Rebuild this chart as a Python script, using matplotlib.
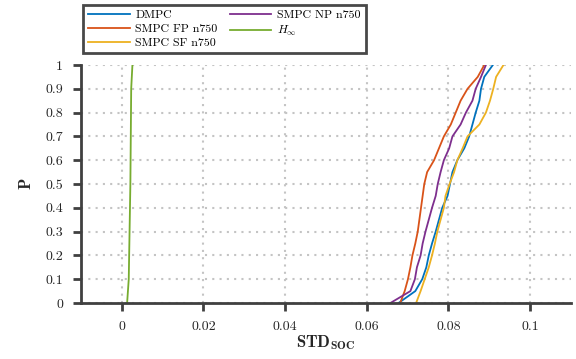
import numpy as np
import matplotlib
matplotlib.use("Agg")
import matplotlib.pyplot as plt

plt.rcParams['font.family'] = 'serif'
plt.rcParams['font.serif'] = ['cmr10', 'DejaVu Serif']
plt.rcParams['mathtext.fontset'] = 'cm'
plt.rcParams['axes.formatter.use_mathtext'] = True

# probability levels of the empirical CDFs
p = np.linspace(0, 1, 21)

# STD_SOC values read at each probability level
dmpc = [0.0678, 0.0719, 0.0736, 0.0746, 0.0752, 0.0760, 0.0769, 0.0777, 0.0785, 0.0798,
        0.0804, 0.0810, 0.0822, 0.0839, 0.0851, 0.0859, 0.0867, 0.0876, 0.0880, 0.0888, 0.0909]
smpc_np = [0.0658, 0.0707, 0.0718, 0.0723, 0.0732, 0.0737, 0.0744, 0.0752, 0.0760, 0.0769,
           0.0774, 0.0781, 0.0789, 0.0802, 0.0810, 0.0830, 0.0843, 0.0859, 0.0867, 0.0880, 0.0892]
smpc_fp = [0.0682, 0.0693, 0.0701, 0.0707, 0.0712, 0.0719, 0.0725, 0.0729, 0.0733, 0.0737,
           0.0741, 0.0748, 0.0765, 0.0777, 0.0789, 0.0806, 0.0818, 0.0830, 0.0847, 0.0872, 0.0888]
smpc_sf = [0.0721, 0.0732, 0.0742, 0.0752, 0.0760, 0.0767, 0.0773, 0.0781, 0.0789, 0.0793,
           0.0803, 0.0814, 0.0822, 0.0835, 0.0847, 0.0876, 0.0892, 0.0902, 0.0910, 0.0917, 0.0935]
p_hinf = [0, 0.1, 0.5, 0.9, 1.0]
hinf = [0.0013, 0.0017, 0.0021, 0.0023, 0.0026]

fig = plt.figure(figsize=(5.76, 3.59), dpi=100)
ax = fig.add_axes([0.1406, 0.156, 0.8504, 0.663])

lw = 1.3
ax.plot(dmpc, p, color='#0072BD', lw=lw, label='DMPC')
ax.plot(smpc_fp, p, color='#D95319', lw=lw, label='SMPC FP n750')
ax.plot(smpc_sf, p, color='#EDB120', lw=lw, label='SMPC SF n750')
ax.plot(smpc_np, p, color='#7E2F8E', lw=lw, label='SMPC NP n750')
ax.plot(hinf, p_hinf, color='#77AC30', lw=lw, label=r'$H_\infty$')

ax.set_xlim(-0.01, 0.11)
ax.set_ylim(0, 1)
ax.set_xticks([0, 0.02, 0.04, 0.06, 0.08, 0.1])
ax.set_xticklabels(['0', '0.02', '0.04', '0.06', '0.08', '0.1'])
ax.set_yticks(np.arange(0, 1.01, 0.1))
ax.set_yticklabels(['0', '0.1', '0.2', '0.3', '0.4', '0.5', '0.6', '0.7', '0.8', '0.9', '1'])

ax.grid(True, linestyle=(0, (1, 2.5)), color='#c4c4c4', lw=1.5)
ax.set_axisbelow(True)
for s in ['top', 'right']:
    ax.spines[s].set_visible(False)
for s in ['left', 'bottom']:
    ax.spines[s].set_color('#404040')
    ax.spines[s].set_linewidth(2)
ax.tick_params(direction='out', length=6, width=2, color='#404040',
               labelsize=10, labelcolor='#262626', pad=7)

ax.set_xlabel(r'$\mathbf{STD}_{\mathbf{SOC}}$', fontsize=12, color='#262626', labelpad=0)
ax.set_ylabel(r'$\mathbf{P}$', fontsize=12, color='#262626', labelpad=8)

leg = fig.legend(loc='upper left', bbox_to_anchor=(0.144, 0.986), ncol=2,
                 fontsize=8.6, frameon=True, fancybox=False, borderaxespad=0,
                 handlelength=3.5, columnspacing=1.0, labelspacing=0.3,
                 borderpad=0.4, handletextpad=0.5)
leg.get_frame().set_edgecolor('#1a1a1a')
leg.get_frame().set_linewidth(2)

fig.savefig('out.png', dpi=100)
